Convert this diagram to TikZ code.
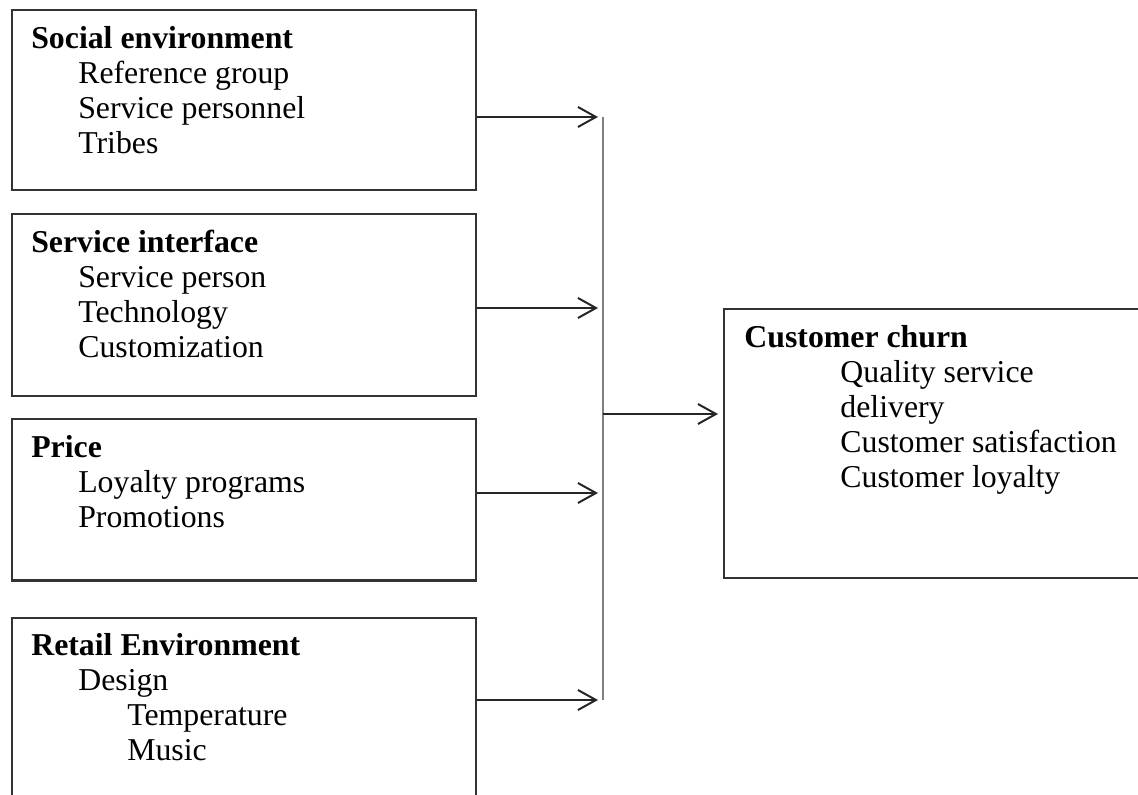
\documentclass[tikz,border=0pt]{standalone}
\usepackage{fontspec}
\setmainfont{Liberation Serif}
\usepackage{tikz}
\usetikzlibrary{positioning,arrows.meta}
\tikzset{
	box/.style={draw=black!80, line width=1.1pt, minimum width=232pt, inner sep=0pt},
	txt/.style={anchor=north west, inner sep=0pt, align=left,
		font=\fontsize{15.9}{17.5}\selectfont, xshift=10pt, yshift=-7.5pt},
	feed/.style={-{Straight Barb[length=9pt,width=10pt,line width=1pt]}, line width=0.9pt,
		draw=black!85, shorten >=2.5pt},
	bar/.style={draw=black!50, line width=0.8pt},
}
\newcommand{\head}[1]{\rule{0pt}{12pt}\textbf{#1}}
\newcommand{\subind}{\hspace*{23.5pt}}
\newcommand{\subsubind}{\hspace*{48pt}}

\begin{document}
\begin{tikzpicture}[x=0.5pt, y=-0.5pt]
        \useasboundingbox (0,0) rectangle (1138,795);
        \clip (0,0) rectangle (1138,795);

        \node[box, minimum height=90pt] (soc) at (244,100) {};
        \node[box, minimum height=91pt, below=11pt of soc] (srv) {};
        \node[box, minimum height=80.5pt, below=10.5pt of srv] (price) {};
        \node[box, minimum height=100pt, below=17.5pt of price] (retail) {};
        \node[box, minimum width=240pt, minimum height=134.5pt, anchor=north west] (churn) at (723,308) {};

        \node[txt] (soctxt) at (soc.north west) {\head{Social environment}\\
            \subind Reference group\\ \subind Service personnel\\ \subind Tribes};
        \node[txt] (srvtxt) at (srv.north west) {\head{Service interface}\\
            \subind Service person\\ \subind Technology\\ \subind Customization};
        \node[txt] (pricetxt) at (price.north west) {\head{Price}\\
            \subind Loyalty programs\\ \subind Promotions};
        \node[txt] (rettxt) at (retail.north west) {\head{Retail Environment}\\
            \subind Design\\ \subsubind Temperature\\ \subsubind Music};
        \node[txt, xshift=0.5pt] (churntxt) at (churn.north west) {\head{Customer churn}\\
            \subsubind Quality service\\ \subsubind delivery\\
            \subsubind Customer satisfaction\\ \subsubind Customer loyalty};

        \coordinate (jsoc) at (603,117);
        \coordinate (jsrv) at (603,308);
        \coordinate (jprice) at (603,493);
        \coordinate (jret) at (603,700);
        \coordinate (jout) at (603,414);

        \draw[bar] (jsoc) -- (jret);
        \draw[feed] (soc.east |- jsoc) -- (jsoc);
        \draw[feed] (srv.east |- jsrv) -- (jsrv);
        \draw[feed] (price.east |- jprice) -- (jprice);
        \draw[feed] (retail.east |- jret) -- (jret);
        \draw[feed] (jout) -- (churn.west |- jout);
    \end{tikzpicture}
\end{document}
